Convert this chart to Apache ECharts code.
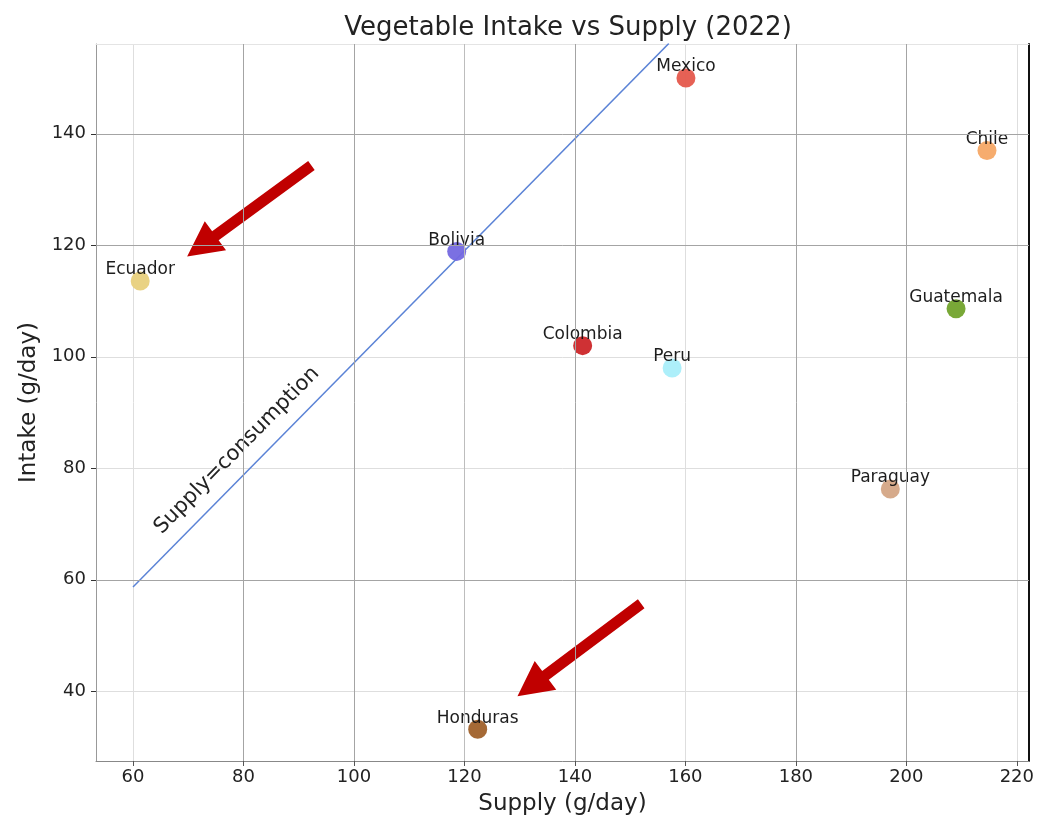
<!DOCTYPE html>
<html>
<head>
<meta charset="utf-8">
<script src="https://cdn.jsdelivr.net/npm/echarts@6/dist/echarts.min.js"></script>
<style>
html,body{margin:0;padding:0;background:#fff;}
#chart{width:1037px;height:821px;}
</style>
</head>
<body>
<div id="chart"></div>
<script>
// ---- data ----
var countries = ['Ecuador','Bolivia','Mexico','Chile','Guatemala','Colombia','Peru','Paraguay','Honduras'];
var supply    = [61.3, 118.6, 160.1, 214.6, 209.0, 141.4, 157.6, 197.1, 122.4];
var intake    = [113.6, 118.9, 150.0, 137.0, 108.6, 102.0, 98.0, 76.3, 33.2];
var pointColors = ['#e8d07c','#7468e0','#e5584c','#f5a866','#72a32c','#cc2629','#a9eefa','#d4a585','#a0612a'];
var lineSupply = [60, 157];
var lineIntake = [58.7, 156.2];
var lineLabel = 'Supply=consumption';
var lineLabelPos = [78.8, 83.2];
// arrows: [tailX, tailY, tipX, tipY]
var arrows = [[92.3, 134.3, 69.8, 118.0], [152.0, 55.7, 129.6, 39.1]];
var xDarkGrid = [80, 100, 140, 180, 200];
var xMidGrid = [120];
var yDarkGrid = [140, 120, 60];
var titleText = 'Vegetable Intake vs Supply (2022)';
var xName = 'Supply (g/day)';
var yName = 'Intake (g/day)';

var FONT = '"DejaVu Sans", sans-serif';
var chart = echarts.init(document.getElementById('chart'));

var scatterData = countries.map(function (c, i) {
  return { name: c, value: [supply[i], intake[i]], itemStyle: { color: pointColors[i] } };
});

var markLines = [];
xDarkGrid.forEach(function (v) { markLines.push({ xAxis: v, lineStyle: { color: '#a4a4a4' } }); });
xMidGrid.forEach(function (v) { markLines.push({ xAxis: v, lineStyle: { color: '#bdbdbd' } }); });
yDarkGrid.forEach(function (v) { markLines.push({ yAxis: v, lineStyle: { color: '#a4a4a4' } }); });

var option = {
  animation: false,
  backgroundColor: '#fff',
  title: {
    text: titleText,
    left: 563, top: 10, textAlign: 'center',
    textStyle: { fontFamily: FONT, fontSize: 26, fontWeight: 'normal', color: '#222' }
  },
  grid: { left: 96, right: 7, top: 44, bottom: 52, containLabel: false },
  xAxis: [{
    type: 'value', min: 53.3, max: 222.2, splitNumber: 8,
    name: xName, nameLocation: 'middle', nameGap: 32,
    nameTextStyle: { fontFamily: FONT, fontSize: 23, color: '#222' },
    axisLine: { show: true, lineStyle: { color: '#888', width: 1 } },
    axisTick: { show: true, length: 5, lineStyle: { color: '#555' } },
    axisLabel: { showMinLabel: false, showMaxLabel: false, fontFamily: FONT, fontSize: 18, color: '#222', margin: 7 },
    splitLine: { show: true, lineStyle: { color: '#dedede', width: 1 } }
  }, {
    type: 'value', position: 'top', min: 53.3, max: 222.2,
    axisLine: { show: true, lineStyle: { color: '#e4e4e4' } },
    axisTick: { show: false }, axisLabel: { show: false }, splitLine: { show: false }
  }],
  yAxis: [{
    type: 'value', min: 27.5, max: 156.1, splitNumber: 7,
    name: yName, nameLocation: 'middle', nameGap: 54, nameRotate: 90,
    nameTextStyle: { fontFamily: FONT, fontSize: 23, color: '#222' },
    axisLine: { show: true, lineStyle: { color: '#999', width: 1 } },
    axisTick: { show: true, length: 5, lineStyle: { color: '#333' } },
    axisLabel: { showMinLabel: false, showMaxLabel: false, fontFamily: FONT, fontSize: 18, color: '#222', margin: 10 },
    splitLine: { show: true, lineStyle: { color: '#dedede', width: 1 } }
  }, {
    type: 'value', position: 'right', min: 27.5, max: 156.1,
    axisLine: { show: true, lineStyle: { color: '#111', width: 2 } },
    axisTick: { show: false }, axisLabel: { show: false }, splitLine: { show: false }
  }],
  series: [
    {
      type: 'line', silent: true, symbol: 'none', z: 1,
      data: [],
      markLine: { silent: true, symbol: 'none', label: { show: false }, lineStyle: { type: 'solid', width: 1 }, data: markLines }
    },
    {
      type: 'line', silent: true, symbol: 'none', z: 2,
      data: lineSupply.map(function (x, i) { return [x, lineIntake[i]]; }),
      lineStyle: { color: '#5b83d6', width: 1.5 }
    },
    {
      type: 'scatter', z: 3,
      symbolSize: 19,
      data: scatterData,
      itemStyle: { opacity: 0.95 },
      label: {
        show: true, position: 'inside', offset: [0, -11],
        formatter: '{b}', fontFamily: FONT, fontSize: 17, color: '#111'
      }
    },
    {
      type: 'custom', z: 4, silent: true,
      data: arrows,
      encode: { x: [0, 2], y: [1, 3] },
      renderItem: function (params, api) {
        var a = api.coord([api.value(0), api.value(1)]);
        var b = api.coord([api.value(2), api.value(3)]);
        var dx = b[0] - a[0], dy = b[1] - a[1];
        var len = Math.sqrt(dx * dx + dy * dy);
        var ux = dx / len, uy = dy / len, nx = -uy, ny = ux;
        var sw = 5.5, hl = 35, hw = 18;
        var bx = b[0] - ux * hl, by = b[1] - uy * hl;
        var pts = [
          [a[0] + nx * sw, a[1] + ny * sw],
          [bx + nx * sw, by + ny * sw],
          [bx + nx * hw, by + ny * hw],
          [b[0], b[1]],
          [bx - nx * hw, by - ny * hw],
          [bx - nx * sw, by - ny * sw],
          [a[0] - nx * sw, a[1] - ny * sw]
        ];
        return { type: 'polygon', shape: { points: pts }, style: { fill: '#c00000' } };
      }
    },
    {
      type: 'custom', z: 4, silent: true,
      data: [lineLabelPos],
      encode: { x: 0, y: 1 },
      renderItem: function (params, api) {
        var p = api.coord([api.value(0), api.value(1)]);
        var p1 = api.coord([lineSupply[0], lineIntake[0]]);
        var p2 = api.coord([lineSupply[1], lineIntake[1]]);
        var ang = Math.atan2(p1[1] - p2[1], p2[0] - p1[0]);
        return {
          type: 'text', x: p[0], y: p[1], rotation: ang,
          style: {
            text: lineLabel, x: 0, y: 0, align: 'center', verticalAlign: 'middle',
            font: '21px "DejaVu Sans", sans-serif',
            fill: '#222'
          }
        };
      }
    }
  ]
};
chart.setOption(option);
</script>
</body>
</html>
